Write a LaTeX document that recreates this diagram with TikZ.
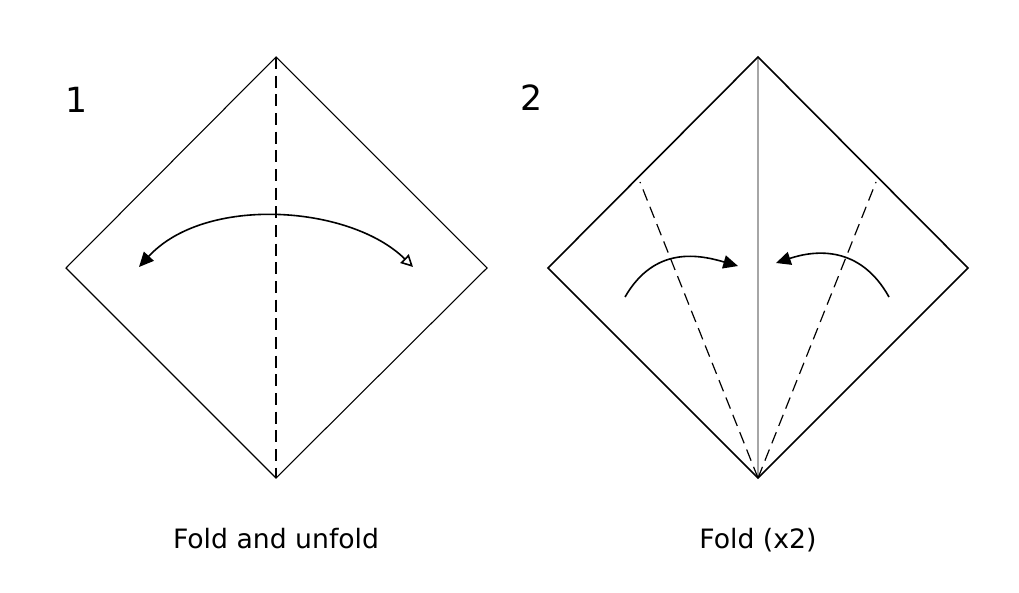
\documentclass[tikz,border=0pt]{standalone}
\usepackage{fontspec}
\setmainfont{DejaVu Sans}
\usetikzlibrary{arrows.meta}
\begin{document}
\begin{tikzpicture}[x=0.75pt,y=-0.75pt,
  paper/.style={draw=black,line width=0.8pt},
  fold/.style={dash pattern=on 9pt off 5pt,line width=0.9pt},
  move/.style={line width=1.2pt},
  lbl/.style={font=\fontsize{20}{24}\selectfont,anchor=base},
  num/.style={font=\fontsize{26}{30}\selectfont,anchor=base}]
\useasboundingbox (0,0) rectangle (1019,592);
% step 1
\coordinate (t1) at (276,57); \coordinate (l1) at (66,268);
\coordinate (r1) at (487,268); \coordinate (b1) at (276,478);
\draw[paper] (t1)--(r1)--(b1)--(l1)--cycle;
\draw[fold] (t1)--(b1);
\coordinate (a1s) at (413,267); \coordinate (a1e) at (139,267);
\draw[move,{Triangle[open,length=9pt,width=9pt]}-{Triangle[length=11pt,width=10pt]}] (a1s) .. controls (350,205) and (205,195) .. (a1e);
\node[num] (n1) at (77,112) {1};
\node[lbl] (c1) at (276,548) {Fold and unfold};
% step 2
\coordinate (t2) at (758,57); \coordinate (l2) at (548,268);
\coordinate (r2) at (968,268); \coordinate (b2) at (758,478);
\draw[black!35,line width=0.8pt] (t2)--(b2);
\draw[paper,line width=1.2pt] (t2)--(r2)--(b2)--(l2)--cycle;
\coordinate (d1) at (640,182); \coordinate (d2) at (876,182);
\draw[fold] (b2)--(d1); \draw[fold] (b2)--(d2);
\coordinate (a2s) at (625,297); \coordinate (a2e) at (738,266);
\coordinate (a3s) at (889,297); \coordinate (a3e) at (776,263);
\draw[move,-{Triangle[length=11pt,width=10pt]}] (a2s) .. controls (655,245) and (700,255) .. (a2e);
\draw[move,-{Triangle[length=11pt,width=10pt]}] (a3s) .. controls (860,245) and (815,250) .. (a3e);
\node[num] (n2) at (532,110) {2};
\node[lbl] (c2) at (758,548) {Fold (x2)};
\end{tikzpicture}
\end{document}
